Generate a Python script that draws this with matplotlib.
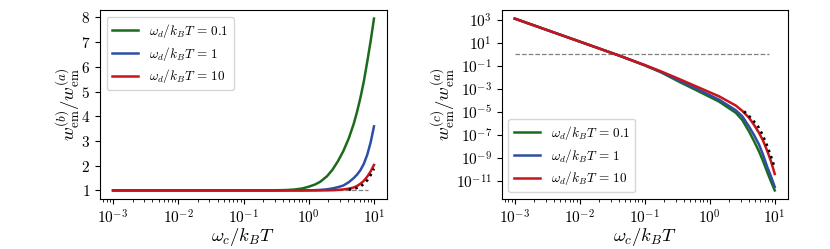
import numpy as np
import matplotlib
matplotlib.use('Agg')
import matplotlib.pyplot as plt
from matplotlib.ticker import FuncFormatter, MultipleLocator, FixedLocator, NullLocator

plt.rcParams['mathtext.fontset'] = 'cm'
plt.rcParams['font.family'] = 'serif'
plt.rcParams['font.serif'] = ['cmr10', 'DejaVu Serif']
plt.rcParams['axes.formatter.use_mathtext'] = True

# values
labels = [r'$\omega_d/k_BT\,=\,0.1$', r'$\omega_d/k_BT\,=\,1$', r'$\omega_d/k_BT\,=\,10$']
colors = ['#1c6b1c', '#2d4fa3', '#c8141b']

# panel (b)/(a)
xb = [1e-3, 1e-2, 0.1, 0.2, 0.3, 0.45, 0.6, 0.8, 1.0, 1.25, 1.5, 1.9,
      2.3, 2.8, 3.4, 4.1, 4.9, 5.5, 6.2, 7.0, 7.9, 8.9, 10]
b_01 = [1, 1, 1, 1.001, 1.005, 1.015, 1.035, 1.08, 1.15, 1.24, 1.35, 1.57,
        1.83, 2.18, 2.60, 3.10, 3.70, 4.18, 4.75, 5.42, 6.22, 7.05, 7.95]
b_1 = [1, 1, 1, 1, 1, 1, 1, 1, 1.004, 1.01, 1.02, 1.045,
       1.08, 1.13, 1.20, 1.33, 1.50, 1.64, 1.82, 2.08, 2.45, 2.95, 3.59]
b_10 = [1, 1, 1, 1, 1, 1, 1, 1, 1, 1, 1, 1.003,
        1.008, 1.02, 1.04, 1.07, 1.12, 1.18, 1.27, 1.39, 1.56, 1.77, 2.03]
xb_asym = [4.1, 4.9, 5.5, 6.2, 7.0, 7.9, 8.9, 10]
b_asym = [1.03, 1.06, 1.10, 1.16, 1.26, 1.41, 1.62, 1.88]

# panel (c)/(a), read as powers of ten
logxc = [-3, -2, -1.387, -1.0, -0.75, -0.468, -0.162, 0.144, 0.40, 0.5,
         0.604, 0.68, 0.757, 0.82, 0.884, 0.94, 1.0]
logc_10 = [3.09, 1.09, -0.14, -0.95, -1.50, -2.17, -2.92, -3.67, -4.47, -4.93,
           -5.53, -6.14, -6.83, -7.52, -8.41, -9.28, -10.42]
logc_1 = [3.09, 1.09, -0.14, -0.96, -1.55, -2.31, -3.12, -3.96, -4.88, -5.40,
          -6.30, -7.03, -7.85, -8.75, -9.80, -10.6, -11.55]
logc_01 = [3.09, 1.09, -0.14, -0.98, -1.58, -2.41, -3.26, -4.13, -5.10, -5.72,
           -6.72, -7.55, -8.45, -9.30, -10.25, -11.05, -11.85]
logxc_asym = [0.528, 0.6, 0.68, 0.757, 0.82, 0.884, 0.94, 1.0]
logc_asym = [-4.97, -5.35, -5.85, -6.40, -7.10, -7.98, -8.85, -9.86]
c_yticks = [1e3, 1e1, 1e-1, 1e-3, 1e-5, 1e-7, 1e-9, 1e-11]

x_ref = [1e-3, 8.2]
y_ref = [1, 1]

xc = 10.0 ** np.array(logxc)
xc_asym = 10.0 ** np.array(logxc_asym)

fig = plt.figure(figsize=(8.3, 2.49), dpi=100)
ax1 = fig.add_axes([0.1205, 0.2008, 0.3458, 0.759])
ax2 = fig.add_axes([0.6045, 0.2008, 0.3446, 0.759])

ax1.plot(x_ref, y_ref, '--', color='gray', lw=0.9)
for y, c, l in zip([b_01, b_1, b_10], colors, labels):
    ax1.plot(xb, y, color=c, lw=1.8, label=l)
ax1.plot(xb_asym, b_asym, ':', color='black', lw=1.8)
ax1.set_xscale('log')
ax1.yaxis.set_major_locator(MultipleLocator(1))
ax1.yaxis.set_major_formatter(FuncFormatter(lambda v, p: f'${v:g}$'))
ax1.set_xlabel(r'$\omega_c/k_BT$', fontsize=13.5)
ax1.set_ylabel(r'$w^{(b)}_{\rm em}/w^{(a)}_{\rm em}$', fontsize=13.5)
ax1.xaxis.set_label_coords(0.5, -0.145)
ax1.yaxis.set_label_coords(-0.063, 0.5)
ax1.tick_params(labelsize=11)
ax1.legend(loc='upper left', fontsize=9.5, labelspacing=0.35)

ax2.plot(x_ref, y_ref, '--', color='gray', lw=0.9)
for ly, c, l in zip([logc_01, logc_1, logc_10], colors, labels):
    ax2.plot(xc, 10.0 ** np.array(ly), color=c, lw=1.8, label=l)
ax2.plot(xc_asym, 10.0 ** np.array(logc_asym), ':', color='black', lw=1.8)
ax2.set_xscale('log')
ax2.set_yscale('log')
ax2.yaxis.set_major_locator(FixedLocator(c_yticks))
ax2.yaxis.set_minor_locator(NullLocator())
ax2.set_xlabel(r'$\omega_c/k_BT$', fontsize=13.5)
ax2.set_ylabel(r'$w^{(c)}_{\rm em}/w^{(a)}_{\rm em}$', fontsize=13.5)
ax2.xaxis.set_label_coords(0.5, -0.145)
ax2.yaxis.set_label_coords(-0.155, 0.5)
ax2.tick_params(labelsize=11)
ax2.legend(loc='lower left', fontsize=9.5, labelspacing=0.35)

fig.savefig('out.png', dpi=100)
